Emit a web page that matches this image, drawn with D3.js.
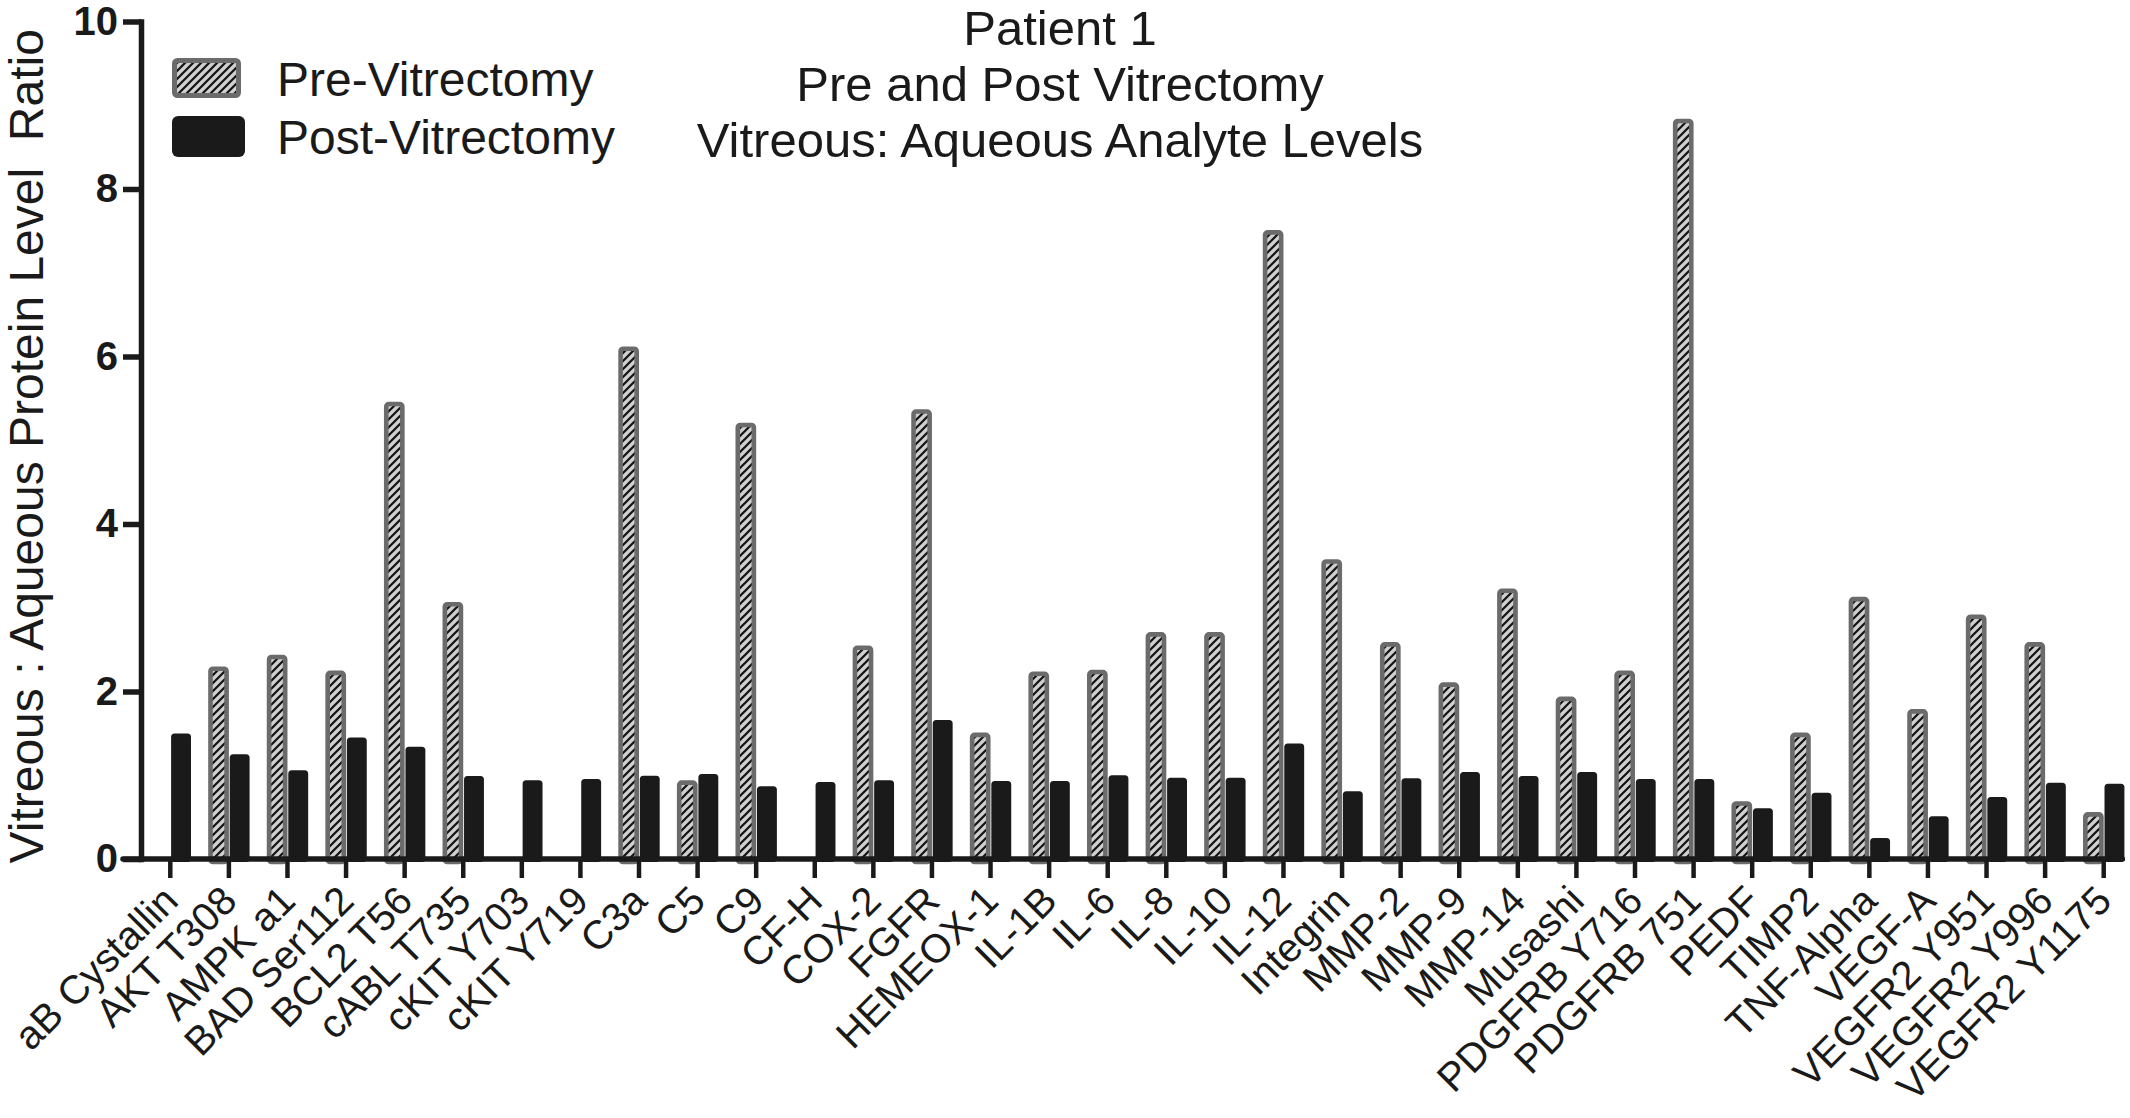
<!DOCTYPE html>
<html><head><meta charset="utf-8">
<script src="https://cdn.jsdelivr.net/npm/d3@7/dist/d3.min.js"></script>
<style>body{margin:0;background:#fff} svg{display:block;font-family:"Liberation Sans",Arial,sans-serif}</style>
</head><body>
<svg id="c" width="2130" height="1118"></svg>
<script>
const categories = ["aB Cystallin","AKT T308","AMPK a1","BAD Ser112","BCL2 T56","cABL T735","cKIT Y703","cKIT Y719","C3a","C5","C9","CF-H","COX-2","FGFR","HEMEOX-1","IL-1B","IL-6","IL-8","IL-10","IL-12","Integrin","MMP-2","MMP-9","MMP-14","Musashi","PDGFRB Y716","PDGFRB 751","PEDF","TIMP2","TNF-Alpha","VEGF-A","VEGFR2 Y951","VEGFR2 Y996","VEGFR2 Y1175"];
const preValues = [null,2.30,2.44,2.25,5.46,3.07,null,null,6.12,0.94,5.21,null,2.55,5.37,1.51,2.24,2.26,2.71,2.71,7.51,3.58,2.59,2.11,3.23,1.94,2.25,8.84,0.69,1.51,3.13,1.79,2.92,2.59,0.56];
const postValues = [1.50,1.25,1.06,1.45,1.34,0.99,0.94,0.955,0.995,1.015,0.87,0.92,0.94,1.66,0.93,0.93,1.00,0.97,0.97,1.38,0.81,0.965,1.04,0.99,1.04,0.955,0.955,0.605,0.79,0.25,0.51,0.74,0.91,0.90];
const yTicks = [0,2,4,6,8,10];
const titleLines = ["Patient 1","Pre and Post Vitrectomy","Vitreous: Aqueous Analyte Levels"];
const legendLabels = ["Pre-Vitrectomy","Post-Vitrectomy"];
const yAxisLabel = "Vitreous : Aqueous Protein Level  Ratio";

const svg = d3.select("#c");
const ink = "#1a1a1a", border = "#6b6b6b";

// hatch pattern
const defs = svg.append("defs");
const pat = defs.append("pattern").attr("id","hatch").attr("patternUnits","userSpaceOnUse")
  .attr("width",8).attr("height",8);
pat.append("rect").attr("width",8).attr("height",8).attr("fill","#cfcfcf");
pat.append("path").attr("d","M-2,2 L2,-2 M0,8 L8,0 M6,10 L10,6").attr("stroke","#111").attr("stroke-width",2.2);

const x = d3.scaleBand().domain(categories).range([141, 2133]).padding(0);
const y = d3.scaleLinear().domain([0,10]).range([859, 21.5]);
const cx = c => x(c) + x.bandwidth()/2;
const barW = 20.7, sw = 4.6;

// pre bars
svg.append("g").selectAll("rect").data(categories.map((c,i)=>({c,v:preValues[i]})).filter(d=>d.v!=null))
  .join("rect")
  .attr("x", d=>cx(d.c)-barW+sw/2).attr("width", barW-sw)
  .attr("y", d=>y(d.v)+sw/2).attr("height", d=>y(0)-y(d.v)-sw/2+3)
  .attr("rx",2.5).attr("fill","url(#hatch)").attr("stroke",border).attr("stroke-width",sw);

// post bars
svg.append("g").selectAll("rect").data(categories.map((c,i)=>({c,v:postValues[i]})))
  .join("rect")
  .attr("x", d=>cx(d.c)+0.8).attr("width", barW-0.8)
  .attr("y", d=>y(d.v)).attr("height", d=>y(0)-y(d.v)+3)
  .attr("rx",3.5).attr("fill",ink);

// y axis
const gy = svg.append("g").attr("transform",`translate(${x.range()[0]},0)`)
  .call(d3.axisLeft(y).tickValues(yTicks).tickSize(18).tickSizeOuter(0).tickPadding(5));
gy.select(".domain").attr("stroke",ink).attr("stroke-width",5.5).attr("stroke-linecap","square");
gy.selectAll(".tick line").attr("stroke",ink).attr("stroke-width",5.5);
gy.selectAll(".tick text").attr("fill",ink).style("font-size","40px").style("font-weight","bold")
  .style("font-family","'Liberation Sans',Arial,sans-serif");

// x axis
const gx = svg.append("g").attr("transform",`translate(0,${y(0)})`)
  .call(d3.axisBottom(x).tickSize(19).tickSizeOuter(0).tickFormat(()=>""));
gx.select(".domain").remove();
gx.selectAll(".tick line").attr("stroke",ink).attr("stroke-width",4.5);
gx.append("line").attr("x1",x.range()[0]-18).attr("x2",cx(categories[categories.length-1])+barW-2)
  .attr("y1",0).attr("y2",0).attr("stroke",ink).attr("stroke-width",5.5).attr("stroke-linecap","round");

// x labels
svg.append("g").selectAll("text").data(categories).join("text")
  .attr("transform", c=>`translate(${cx(c)+10},${y(0)+44}) rotate(-45)`)
  .attr("text-anchor","end").attr("fill",ink).style("font-size","40px").text(c=>c);

// y label
svg.append("text").attr("transform",`translate(43,${(y(0)+y(10))/2+6}) rotate(-90)`)
  .attr("text-anchor","middle").attr("fill",ink).style("font-size","48px").style("white-space","pre")
  .text(yAxisLabel);

// title
svg.append("g").selectAll("text").data(titleLines).join("text")
  .attr("x",1060).attr("y",(d,i)=>45+i*56).attr("text-anchor","middle").attr("fill",ink)
  .style("font-size","49px").text(d=>d);

// legend
const lg = svg.append("g");
lg.append("rect").attr("x",174.5).attr("y",60.5).attr("width",64).attr("height",35).attr("rx",3)
  .attr("fill","url(#hatch)").attr("stroke",border).attr("stroke-width",5);
lg.append("rect").attr("x",172).attr("y",116).attr("width",73).attr("height",41).attr("rx",6).attr("fill",ink);
lg.selectAll("text").data(legendLabels).join("text")
  .attr("x",277).attr("y",(d,i)=>96+i*58).attr("fill",ink).style("font-size","48px").text(d=>d);
</script>
</body></html>
